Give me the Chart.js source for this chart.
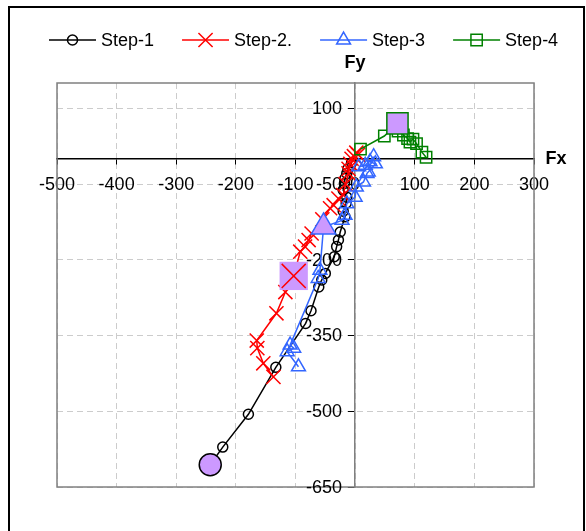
<!DOCTYPE html>
<html lang="en"><head>
<meta charset="UTF-8">
<title>Fx - Fy</title>
<script src="https://cdn.jsdelivr.net/npm/chart.js"></script>
<style>
  body { margin: 0; background: #fff; }
  .wrap { position: relative; width: 586px; height: 531px; overflow: hidden; }
  .frame { position: absolute; left: 8px; top: 6px; width: 573px; height: 540px; border: 2px solid #000; }
  canvas { position: absolute; left: 0; top: 0; }
</style>
</head><body>
<div class="wrap">
  <div class="frame"></div>
  <canvas id="chart" width="586" height="531"></canvas>
</div>
<script>
  const fxTicks = [-500, -400, -300, -200, -100, 0, 100, 200, 300];
  const fyTicks = [-650, -500, -350, -200, -50, 100];

  const step1Fx = [-6, -12, -14, -17, -18, -20, -14, -15, -20, -17, -25, -28, -31, -35, -50, -56, -61, -74, -83, -133, -179, -222, -243];
  const step1Fy = [-8, -20, -29, -39, -49, -62, -76, -88, -104, -115, -145, -161, -174, -194, -227, -240, -254, -301, -326, -413, -506, -571, -606];

  const step2Fx = [5, 2, -2, -6, -8, -11, -11, -16, -20, -28, -36, -42, -55, -73, -78, -84, -92, -103, -117, -132, -165, -164, -154, -137];
  const step2Fy = [8, 12, 5, 0, -10, -20, -29, -50, -72, -79, -92, -98, -120, -148, -161, -174, -184, -232, -264, -306, -360, -375, -405, -432];

  const step3Fx = [6, 17, 31, 25, 34, 22, 20, 14, 2, 0, -14, -17, -22, -53, -59, -62, -109, -103, -114, -95];
  const step3Fy = [-16, -13, 4, -6, -10, -26, -29, -46, -56, -76, -89, -112, -122, -135, -221, -237, -369, -375, -382, -412];

  const step4Fx = [9, 49, 71, 75, 72, 81, 88, 92, 97, 103, 112, 119];
  const step4Fy = [19, 45, 70, 63, 55, 47, 40, 33, 39, 30, 13, 3];

  // one highlighted point per step
  const peakFx = [-243, -103, -53, 71];
  const peakFy = [-606, -232, -135, 70];

  const FONT = 'Arial, "Liberation Sans", sans-serif';
  const LILAC = '#cc99ff';

  function series(fx, fy) {
    return fx.map((x, i) => ({ x: x, y: fy[i] }));
  }

  // plot frame, Fy labels beside the centred axis, axis titles and the line+marker legend
  const decorations = {
    id: 'decorations',
    beforeDatasetsDraw(chart) {
      const { ctx, chartArea: a, scales } = chart;
      ctx.save();
      ctx.strokeStyle = '#808080';
      ctx.lineWidth = 1.5;
      ctx.strokeRect(a.left, a.top, a.right - a.left, a.bottom - a.top);

      ctx.fillStyle = '#000';
      ctx.font = '18px ' + FONT;
      ctx.textAlign = 'right';
      ctx.textBaseline = 'middle';
      const x0 = scales.x.getPixelForValue(0);
      fyTicks.forEach(v => {
        ctx.fillText(String(v), x0 - 13, scales.y.getPixelForValue(v) + 1);
      });
      ctx.restore();
    },
    afterDraw(chart) {
      const { ctx, chartArea: a, scales } = chart;
      ctx.save();
      ctx.fillStyle = '#000';
      ctx.font = 'bold 18px ' + FONT;
      ctx.textAlign = 'center';
      ctx.textBaseline = 'middle';
      ctx.fillText('Fy', scales.x.getPixelForValue(0), a.top - 20);
      ctx.fillText('Fx', a.right + 22, scales.y.getPixelForValue(0));

      ctx.font = '18px ' + FONT;
      ctx.textAlign = 'left';
      let x = 49;
      const y = 40;
      chart.data.datasets.slice(0, 4).forEach(ds => {
        ctx.strokeStyle = ds.borderColor;
        ctx.lineWidth = 1.5;
        ctx.beginPath();
        ctx.moveTo(x, y);
        ctx.lineTo(x + 47, y);
        ctx.stroke();
        ctx.fillStyle = 'rgba(0,0,0,0)';
        Chart.helpers.drawPoint(ctx, {
          pointStyle: ds.pointStyle, radius: ds.pointRadius, borderWidth: 1.5, rotation: 0
        }, x + 23.5, y);
        ctx.fillStyle = '#000';
        ctx.fillText(ds.label, x + 52, y + 1);
        x += 52 + ctx.measureText(ds.label).width + 28;
      });
      ctx.restore();
    }
  };

  const axisTicks = (values) => (scale) => {
    scale.ticks = values.map(v => ({ value: v }));
  };

  new Chart(document.getElementById('chart'), {
    type: 'scatter',
    data: {
      datasets: [
        {
          label: 'Step-1', data: series(step1Fx, step1Fy),
          borderColor: '#000000', backgroundColor: 'rgba(0,0,0,0)',
          pointStyle: 'circle', pointRadius: 5, order: 5
        },
        {
          label: 'Step-2.', data: series(step2Fx, step2Fy),
          borderColor: '#ff0000', backgroundColor: 'rgba(0,0,0,0)',
          pointStyle: 'crossRot', pointRadius: 10, order: 4
        },
        {
          label: 'Step-3', data: series(step3Fx, step3Fy),
          borderColor: '#3366ff', backgroundColor: 'rgba(0,0,0,0)',
          pointStyle: 'triangle', pointRadius: 8, order: 3
        },
        {
          label: 'Step-4', data: series(step4Fx, step4Fy),
          borderColor: '#008000', backgroundColor: 'rgba(0,0,0,0)',
          pointStyle: 'rect', pointRadius: 8, order: 2
        },
        {
          label: 'peak', data: series(peakFx, peakFy), showLine: false,
          pointStyle: ['circle', 'rect', 'triangle', 'rect'],
          pointRadius: [11, 20, 14, 15],
          backgroundColor: LILAC,
          borderColor: ['#000000', 'rgba(0,0,0,0)', '#3366ff', '#008000'],
          order: 1
        },
        {
          label: 'peakX', data: [{ x: peakFx[1], y: peakFy[1] }], showLine: false,
          pointStyle: 'crossRot', pointRadius: 17,
          borderColor: '#ff0000', backgroundColor: 'rgba(0,0,0,0)',
          order: 0
        }
      ]
    },
    options: {
      responsive: false,
      animation: false,
      devicePixelRatio: 1,
      events: [],
      showLine: true,
      layout: { padding: { left: 57, top: 83, right: 52, bottom: 44 } },
      elements: {
        line: { borderWidth: 1.5, tension: 0 },
        point: { borderWidth: 1.5, hoverRadius: 0 }
      },
      plugins: {
        legend: { display: false },
        tooltip: { enabled: false }
      },
      scales: {
        x: {
          type: 'linear',
          min: -500, max: 300,
          position: { y: 0 },
          afterBuildTicks: axisTicks(fxTicks),
          grid: { color: '#cccccc', lineWidth: 1, tickLength: 5, tickColor: '#000', tickWidth: 1 },
          border: { color: '#000', width: 1.5, dash: [6, 4] },
          ticks: { color: '#000', font: { family: FONT, size: 18 }, padding: 10, maxRotation: 0, autoSkip: false }
        },
        y: {
          type: 'linear',
          min: -650, max: 150,
          position: { x: 0 },
          afterBuildTicks: axisTicks(fyTicks),
          grid: { color: '#cccccc', lineWidth: 1, tickLength: 6, tickColor: '#000', tickWidth: 1 },
          border: { color: '#808080', width: 1.5, dash: [6, 4] },
          ticks: { display: false }
        }
      }
    },
    plugins: [decorations]
  });
</script>
</body></html>
